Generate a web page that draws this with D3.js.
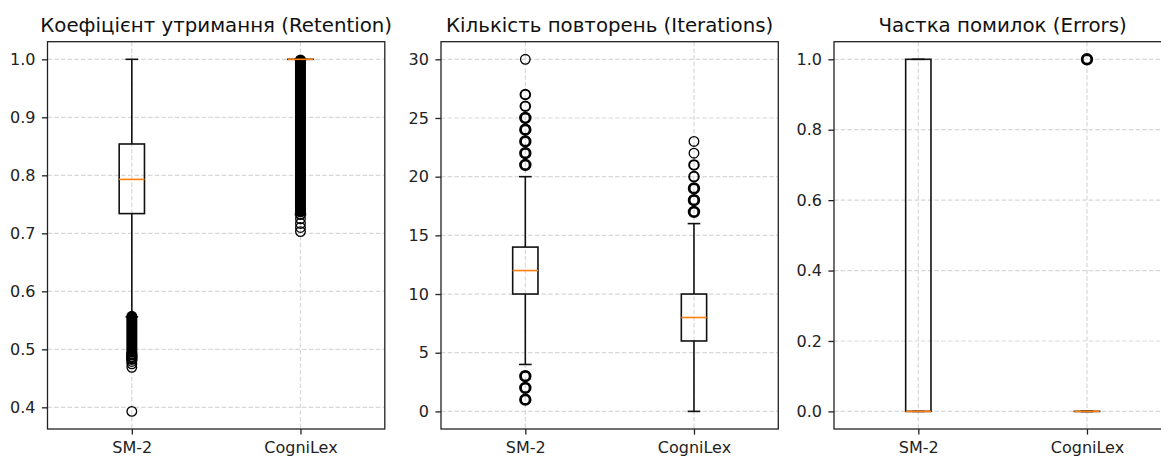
<!DOCTYPE html>
<html>
<head>
<meta charset="utf-8">
<script src="https://cdn.jsdelivr.net/npm/d3@7"></script>
<style>
  body { margin: 0; background: #fff; }
  svg { display: block; font-family: "DejaVu Sans", sans-serif; }
  .tick text { font-family: "DejaVu Sans", sans-serif; font-size: 16px; fill: #222; }
  .tick line { stroke: #222; stroke-width: 1.3; }
</style>
</head>
<body>
<div id="container"></div>
<script>
// groups on the x axis
const groups = ['SM-2', 'CogniLex'];

// panel titles
const titles = [
    'Коефіцієнт утримання (Retention)',
    'Кількість повторень (Iterations)',
    'Частка помилок (Errors)'
];

// box stats: [whiskerLow, q1, median, q3, whiskerHigh] per group
const retentionBox = [[0.556, 0.734, 0.793, 0.854, 1.0], [1.0, 1.0, 1.0, 1.0, 1.0]];
const iterationsBox = [[4, 10, 12, 14, 20], [0, 6, 8, 10, 16]];
const errorsBox = [[0, 0, 0, 1, 1], [0, 0, 0, 0, 0]];

// outliers as [value, count]
const retentionOutliers = [
    [[0.491, 3], [0.487, 2], [0.483, 2], [0.479, 1], [0.475, 1], [0.469, 1], [0.393, 1]],
    [[0.733, 2], [0.725, 1], [0.717, 1], [0.710, 1], [0.703, 1]]
];
// ranges packed so densely with outliers that they read as a solid column
const retentionDense = [[0.495, 0.557], [0.737, 0.999]];

const iterationsOutliers = [
    [[1, 8], [2, 12], [3, 20], [21, 15], [22, 10], [23, 8], [24, 6], [25, 5], [26, 4], [27, 2], [30, 1]],
    [[17, 12], [18, 9], [19, 6], [20, 3], [21, 2], [22, 1], [23, 1]]
];
const errorsOutliers = [[], [[1, 40]]];

const yTicks = [
    [0.4, 0.5, 0.6, 0.7, 0.8, 0.9, 1.0],
    [0, 5, 10, 15, 20, 25, 30],
    [0.0, 0.2, 0.4, 0.6, 0.8, 1.0]
];
const tickFormats = [d3.format('.1f'), d3.format('d'), d3.format('.1f')];

const panels = [
    { box: retentionBox, outliers: retentionOutliers, dense: retentionDense },
    { box: iterationsBox, outliers: iterationsOutliers, dense: [[], []] },
    { box: errorsBox, outliers: errorsOutliers, dense: [[], []] }
];

const width = 1161;
const height = 456;
const plot = { top: 41.7, bottom: 429, width: 337.3 };
const lefts = [47.5, 441, 834];
const flierR = 4.8;

const svg = d3.select('#container').append('svg')
    .attr('width', width)
    .attr('height', height);

panels.forEach((p, k) => {
    // y extent with 5% margins like matplotlib autoscale
    let vals = [];
    p.box.forEach(b => vals.push(...b));
    p.outliers.forEach(o => o.forEach(d => vals.push(d[0])));
    p.dense.forEach(r => vals.push(...r));
    const [lo, hi] = d3.extent(vals);
    const m = (hi - lo) * 0.05;

    const y = d3.scaleLinear().domain([lo - m, hi + m]).range([plot.bottom, plot.top]);
    const x = d3.scalePoint().domain(groups).range([0, plot.width]).padding(0.5);
    const boxW = 0.15 * x.step();
    const h = plot.bottom - plot.top;

    const g = svg.append('g').attr('transform', 'translate(' + lefts[k] + ',0)');

    // grid
    g.selectAll('.hgrid').data(yTicks[k]).enter().append('line')
        .attr('x1', 0).attr('x2', plot.width)
        .attr('y1', d => y(d)).attr('y2', d => y(d))
        .attr('stroke', '#d8d8d8').attr('stroke-width', 1.2).attr('stroke-dasharray', '4.5,2.2');
    g.selectAll('.vgrid').data(groups).enter().append('line')
        .attr('x1', d => x(d)).attr('x2', d => x(d))
        .attr('y1', plot.top).attr('y2', plot.bottom)
        .attr('stroke', '#d8d8d8').attr('stroke-width', 1.2).attr('stroke-dasharray', '4.5,2.2');

    // axes
    g.append('g')
        .call(d3.axisLeft(y).tickValues(yTicks[k]).tickFormat(tickFormats[k]).tickSize(5.6).tickPadding(6.5).tickSizeOuter(0))
        .call(a => a.select('.domain').remove())
        .selectAll('text').attr('font-family', null).attr('font-size', null);
    g.append('g')
        .attr('transform', 'translate(0,' + plot.bottom + ')')
        .call(d3.axisBottom(x).tickSize(5.6).tickPadding(7).tickSizeOuter(0))
        .call(a => a.select('.domain').remove())
        .selectAll('text').attr('font-family', null).attr('font-size', null);

    // boxes
    groups.forEach((grp, i) => {
        const cx = x(grp);
        const [wl, q1, med, q3, wh] = p.box[i];
        const line = (x1, y1, x2, y2, color, w) => g.append('line')
            .attr('x1', x1).attr('y1', y1).attr('x2', x2).attr('y2', y2)
            .attr('stroke', color).attr('stroke-width', w);

        // whiskers and caps
        line(cx, y(q1), cx, y(wl), '#111', 1.6);
        line(cx, y(q3), cx, y(wh), '#111', 1.6);
        line(cx - boxW / 4, y(wl), cx + boxW / 4, y(wl), '#111', 1.6);
        line(cx - boxW / 4, y(wh), cx + boxW / 4, y(wh), '#111', 1.6);
        // box
        g.append('rect')
            .attr('x', cx - boxW / 2).attr('y', y(q3))
            .attr('width', boxW).attr('height', Math.max(0.01, y(q1) - y(q3)))
            .attr('fill', 'none').attr('stroke', '#111').attr('stroke-width', 1.6);

        // dense outlier runs
        const dr = p.dense[i];
        if (dr.length) {
            g.append('rect')
                .attr('x', cx - flierR - 0.7).attr('y', y(dr[1]) - flierR - 0.7)
                .attr('width', 2 * flierR + 1.4).attr('height', y(dr[0]) - y(dr[1]) + 2 * flierR + 1.4)
                .attr('rx', flierR + 0.7)
                .attr('fill', '#000');
        }
        // individual outliers
        g.selectAll('.fl' + i).data(p.outliers[i]).enter().append('circle')
            .attr('cx', cx).attr('cy', d => y(d[0])).attr('r', flierR)
            .attr('fill', 'none').attr('stroke', '#000')
            .attr('stroke-width', d => d[1] >= 5 ? 2.8 : d[1] >= 2 ? 2 : 1.3);

        // median
        line(cx - boxW / 2, y(med), cx + boxW / 2, y(med), '#ff7f0e', 1.6);
    });

    // frame
    g.append('rect')
        .attr('x', 0).attr('y', plot.top)
        .attr('width', plot.width).attr('height', h)
        .attr('fill', 'none').attr('stroke', '#222').attr('stroke-width', 1.3);

    // title
    g.append('text')
        .attr('x', plot.width / 2).attr('y', 31.5)
        .attr('text-anchor', 'middle')
        .attr('font-size', '19.8px').attr('fill', '#111')
        .text(titles[k]);
});
</script>
</body>
</html>
